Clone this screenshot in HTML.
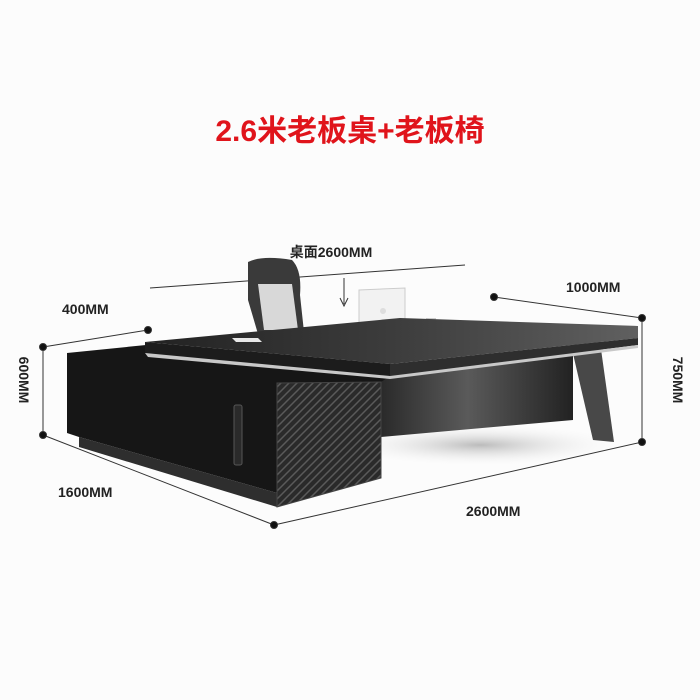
<!DOCTYPE html>
<html><head><meta charset="utf-8"><style>
html,body{margin:0;padding:0;background:#fcfcfc;}
svg{display:block;}
text{font-family:"Liberation Sans","Noto Sans CJK SC",sans-serif;font-weight:bold;}
</style></head><body>
<svg width="700" height="700" viewBox="0 0 700 700" xmlns="http://www.w3.org/2000/svg">
<defs>
<linearGradient id="top" x1="0" y1="0" x2="1" y2="0"><stop offset="0" stop-color="#222"/><stop offset="0.5" stop-color="#3c3c3c"/><stop offset="1" stop-color="#606060"/></linearGradient>
<linearGradient id="panel" x1="0" y1="0" x2="1" y2="0"><stop offset="0" stop-color="#2a2a2a"/><stop offset="0.45" stop-color="#5a5a5a"/><stop offset="1" stop-color="#222"/></linearGradient>
<pattern id="fret" width="8" height="8" patternUnits="userSpaceOnUse"><rect width="8" height="8" fill="#2a2a2a"/><path d="M0 8L8 0M-2 2L2 -2M6 10L10 6" stroke="#5a5a5a" stroke-width="1.5"/></pattern>
<radialGradient id="shadow" cx="0.5" cy="0.5" r="0.5"><stop offset="0" stop-color="#bbb"/><stop offset="1" stop-color="#fff" stop-opacity="0"/></radialGradient>
</defs>
<rect width="700" height="700" fill="#fcfcfc"/>
<text x="350" y="141" text-anchor="middle" font-size="30" fill="#e0141b">2.6米老板桌+老板椅</text>
<ellipse cx="480" cy="445" rx="150" ry="22" fill="url(#shadow)"/>
<line x1="150" y1="288" x2="465" y2="265" stroke="#333" stroke-width="1"/>
<text x="331" y="257" text-anchor="middle" font-size="14" fill="#222">桌面2600MM</text>
<line x1="344" y1="278" x2="344" y2="304" stroke="#333" stroke-width="1"/>
<path d="M340 298 L344 306 L348 298" fill="none" stroke="#333"/>
<path d="M248 262 Q262 255 292 260 Q302 270 300 295 L304 332 L258 334 L248 300 Z" fill="#3a3a3a"/>
<path d="M258 284 L292 284 L298 330 L264 330 Z" fill="#d8d8d8"/>
<polygon points="359,290 405,288 405,332 359,334" fill="#f2f2f2" stroke="#ccc"/>
<circle cx="383" cy="311" r="3" fill="#ddd"/>
<rect x="426" y="318" width="10" height="6" fill="#ccc"/>
<polygon points="571,345 600,342 614,442 593,440" fill="#484848"/>
<polygon points="381,372 573,345 573,420 381,437" fill="url(#panel)"/>
<polygon points="67,353 146,345 390,376 381,382 381,478 277,493 79,437 67,433" fill="#161616"/>
<polygon points="79,437 277,493 277,507 79,447" fill="#2e2e2e"/>
<polygon points="145,342 400,318 638,326 638,338 390,364" fill="url(#top)"/>
<polygon points="145,342 390,364 390,376 145,353" fill="#1c1c1c"/>
<polygon points="390,364 638,338 638,345 390,376" fill="#2e2e2e"/>
<polygon points="145,353 390,376 638,345 638,348 390,379 148,357" fill="#c8c8c8"/>
<polygon points="232,338 258,338 262,342 236,342" fill="#e8e8e8"/>
<polygon points="277,383 381,382 381,478 277,507" fill="url(#fret)" stroke="#444"/>
<rect x="234" y="405" width="8" height="60" rx="2" fill="#2a2a2a" stroke="#555"/>
<g stroke="#333" stroke-width="1" fill="#111">
<line x1="148" y1="330" x2="43" y2="347"/>
<line x1="43" y1="347" x2="43" y2="435"/>
<line x1="43" y1="435" x2="274" y2="525"/>
<line x1="274" y1="525" x2="642" y2="442"/>
<line x1="642" y1="318" x2="642" y2="442"/>
<line x1="494" y1="297" x2="642" y2="318"/>
<circle cx="148" cy="330" r="3.5"/><circle cx="43" cy="347" r="3.5"/><circle cx="43" cy="435" r="3.5"/>
<circle cx="274" cy="525" r="3.5"/><circle cx="642" cy="442" r="3.5"/><circle cx="642" cy="318" r="3.5"/><circle cx="494" cy="297" r="3.5"/>
</g>
<g font-size="14" fill="#222">
<text x="62" y="314">400MM</text>
<text x="566" y="292">1000MM</text>
<text x="58" y="497">1600MM</text>
<text x="466" y="516">2600MM</text>
<text transform="translate(19,380) rotate(90)" text-anchor="middle">600MM</text>
<text transform="translate(673,380) rotate(90)" text-anchor="middle">750MM</text>
</g>
</svg>
</body></html>
